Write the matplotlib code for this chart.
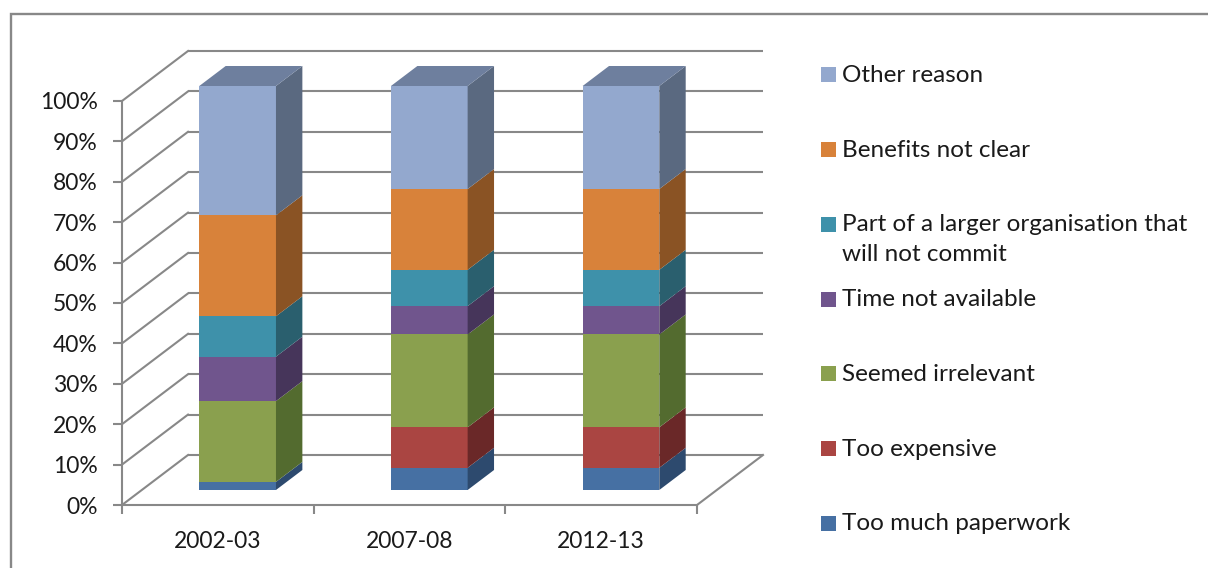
import numpy as np
import matplotlib.pyplot as plt
from matplotlib.patches import Polygon, Rectangle

plt.rcParams['font.family'] = ['Lato', 'DejaVu Sans']

## dados (percentagens)
years = ['2002-03', '2007-08', '2012-13']
reasons = ['Too much paperwork', 'Too expensive', 'Seemed irrelevant',
           'Time not available',
           'Part of a larger organisation that\nwill not commit',
           'Benefits not clear', 'Other reason']
too_much_paperwork = [2, 5.5, 5.5]
too_expensive = [0, 10, 10]
seemed_irrelevant = [20, 23, 23]
time_not_available = [11, 7, 7]
larger_organisation = [10, 9, 9]
benefits_not_clear = [25, 20, 20]
other_reason = [32, 25.5, 25.5]
yticks = [0, 10, 20, 30, 40, 50, 60, 70, 80, 90, 100]
ylabels = ['%d%%' % v for v in yticks]

series = [too_much_paperwork, too_expensive, seemed_irrelevant,
          time_not_available, larger_organisation, benefits_not_clear,
          other_reason]
front = ['#4670A3', '#AA4542', '#8AA04E', '#70558D', '#3E91AA', '#D8823A', '#93A8CE']
side = ['#2D4A6E', '#6A2828', '#536B2F', '#46355A', '#2A5F6E', '#8A5324', '#5A6980']
top_col = '#6E7F9E'
grid = '#888888'
txt = '#1a1a1a'

## layout (pixels)
W, H = 1208, 568
fig = plt.figure(figsize=(W / 100, H / 100), dpi=100)
ax = fig.add_axes([122 / W, (H - 505) / H, (697 - 122) / W, (505 - 101) / H])
ax.set_xlim(0, 3)
ax.set_ylim(0, 100)
ax.patch.set_alpha(0)

depth_x = 66 / ((697 - 122) / 3)   # profundidade em unidades de categoria
depth_y = 50 / (404 / 100)         # profundidade em unidades de %
z0, z1 = 0.3, 0.7
bar_w = 0.4

## paredes / grade
for v in yticks:
    ax.plot([depth_x, 3 + depth_x], [v + depth_y] * 2, color=grid, lw=1.5,
            clip_on=False, zorder=1, solid_capstyle='butt')
    ax.plot([0, depth_x], [v, v + depth_y], color=grid, lw=1.5,
            clip_on=False, zorder=1)
ax.plot([3, 3 + depth_x], [0, depth_y], color=grid, lw=1.5, clip_on=False, zorder=1)

for s in ['top', 'right']:
    ax.spines[s].set_visible(False)
for s in ['left', 'bottom']:
    ax.spines[s].set_color(grid)
    ax.spines[s].set_linewidth(1.5)
    ax.spines[s].set_zorder(2)

ax.set_yticks(yticks, labels=ylabels)
ax.tick_params(axis='y', length=6.5, width=1.5, color=grid, pad=11,
               labelsize=16.5, labelcolor=txt)
ax.set_xticks([0, 1, 2, 3], labels=[])
ax.set_xticks(np.arange(3) + 0.5, labels=years, minor=True)
ax.tick_params(axis='x', which='major', length=6.5, width=1.5, color=grid)
ax.tick_params(axis='x', which='minor', length=0, pad=19, labelsize=16.5,
               labelcolor=txt)

## barras 3D empilhadas
xc = np.arange(3) + 0.5 + z0 * depth_x
ddx = (z1 - z0) * depth_x
ddy = (z1 - z0) * depth_y
cum = np.zeros(3)
for k, vals in enumerate(series):
    vals = np.array(vals, dtype=float)
    ax.bar(xc, vals, width=bar_w, bottom=cum + z0 * depth_y, color=front[k],
           linewidth=0, zorder=3, clip_on=False)
    for i in range(3):
        if vals[i] <= 0:
            continue
        b = cum[i] + z0 * depth_y
        t = b + vals[i]
        xl = xc[i] - bar_w / 2
        xr = xc[i] + bar_w / 2
        ax.add_patch(Polygon([(xr, b), (xr + ddx, b + ddy), (xr + ddx, t + ddy), (xr, t)],
                             closed=True, facecolor=side[k], linewidth=0,
                             zorder=3, clip_on=False))
        if k == len(series) - 1:
            ax.add_patch(Polygon([(xl, t), (xl + ddx, t + ddy), (xr + ddx, t + ddy), (xr, t)],
                                 closed=True, facecolor=top_col, linewidth=0,
                                 zorder=3, clip_on=False))
    cum = cum + vals

## legenda manual
leg_y0 = 75
leg_step = 74.7
for i, (name, col) in enumerate(zip(reasons[::-1], front[::-1])):
    yc = leg_y0 + i * leg_step
    fig.add_artist(Rectangle((821 / W, (H - yc - 7.5) / H), 15 / W, 15 / H,
                             transform=fig.transFigure, facecolor=col, linewidth=0))
    fig.text(842 / W, (H - yc + 10) / H, name, va='top', ha='left',
             fontsize=17.5, color=txt, linespacing=1.5)

## borda
fig.add_artist(Rectangle((11 / W, -0.02), 1.2, (H - 14) / H + 0.02,
                         transform=fig.transFigure, fill=False,
                         edgecolor='#888888', linewidth=1.7))

fig.savefig('out.png', dpi=100)
